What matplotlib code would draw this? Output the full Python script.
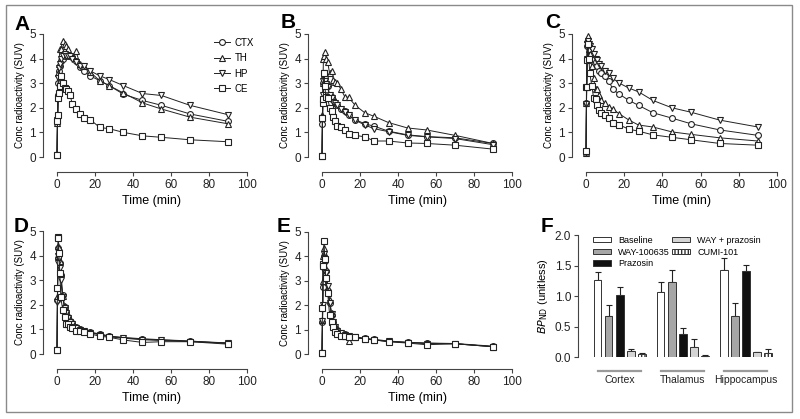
import numpy as np
import matplotlib.pyplot as plt

plt.rcParams['font.family'] = ['Liberation Sans', 'DejaVu Sans']

# Frame times (min)
times = [0, 0.25, 0.5, 0.75, 1, 1.5, 2, 3, 4, 5, 6, 7, 8, 10, 12, 14,
         17.5, 22.5, 27.5, 35, 45, 55, 70, 90]

regions = ["CTX", "TH", "HP", "CE"]

# Panel A
a_ctx = [0.1, 1.5, 2.5, 3.0, 3.5, 3.7, 3.9, 4.0, 4.1, 4.15, 4.1, 4.1, 4.05, 3.9, 3.65, 3.5, 3.3, 3.1, 2.9, 2.55, 2.3, 2.1, 1.75, 1.45]
a_th = [0.1, 1.4, 2.6, 3.4, 3.8, 4.4, 4.4, 4.7, 4.6, 4.5, 4.4, 4.15, 4.1, 4.3, 3.8, 3.7, 3.45, 3.1, 2.9, 2.6, 2.2, 1.95, 1.62, 1.35]
a_hp = [0.1, 1.5, 2.4, 3.2, 3.6, 3.8, 4.0, 4.1, 4.2, 4.1, 4.1, 4.1, 4.0, 3.85, 3.7, 3.7, 3.5, 3.3, 3.15, 2.9, 2.58, 2.5, 2.1, 1.72]
a_ce = [0.1, 1.45, 1.7, 2.4, 2.6, 2.9, 3.3, 3.0, 2.8, 2.75, 2.7, 2.5, 2.15, 1.95, 1.75, 1.58, 1.52, 1.2, 1.15, 1.0, 0.86, 0.8, 0.7, 0.62]

# Panel B
b_ctx = [0.05, 1.35, 2.3, 3.0, 3.3, 3.2, 3.0, 2.9, 2.5, 2.45, 2.3, 2.2, 2.1, 1.95, 1.85, 1.72, 1.52, 1.35, 1.25, 1.05, 0.9, 0.83, 0.78, 0.55]
b_th = [0.05, 1.7, 3.0, 4.0, 4.1, 4.25, 4.0, 3.85, 3.4, 3.5, 3.15, 3.05, 3.0, 2.75, 2.45, 2.42, 2.1, 1.8, 1.65, 1.4, 1.18, 1.1, 0.88, 0.55]
b_hp = [0.05, 1.6, 2.5, 3.1, 3.4, 3.1, 2.95, 2.85, 2.5, 2.4, 2.25, 2.2, 2.1, 1.95, 1.82, 1.7, 1.5, 1.3, 1.15, 1.03, 0.88, 0.82, 0.75, 0.5]
b_ce = [0.05, 1.6, 2.2, 2.35, 3.4, 2.9, 2.45, 2.4, 2.0, 1.85, 1.62, 1.45, 1.27, 1.22, 1.1, 0.95, 0.88, 0.82, 0.65, 0.65, 0.57, 0.55, 0.48, 0.32]

# Panel C
c_ctx = [0.15, 2.2, 3.95, 4.5, 4.6, 4.5, 4.4, 4.2, 4.0, 3.85, 3.7, 3.5, 3.4, 3.3, 3.1, 2.75, 2.55, 2.3, 2.1, 1.8, 1.58, 1.35, 1.1, 0.88]
c_th = [0.15, 2.2, 4.0, 4.8, 4.9, 4.4, 4.2, 3.7, 3.2, 2.75, 2.75, 2.5, 2.3, 2.2, 2.05, 1.95, 1.75, 1.5, 1.3, 1.22, 1.02, 0.92, 0.78, 0.65]
c_hp = [0.15, 2.15, 4.0, 4.6, 4.7, 4.6, 4.5, 4.4, 4.2, 4.0, 3.95, 3.8, 3.7, 3.5, 3.4, 3.2, 3.0, 2.8, 2.65, 2.3, 2.0, 1.82, 1.5, 1.22]
c_ce = [0.25, 2.85, 2.85, 3.95, 4.6, 4.0, 3.4, 2.9, 2.4, 2.35, 2.1, 1.9, 1.8, 1.7, 1.6, 1.4, 1.3, 1.13, 1.05, 0.9, 0.8, 0.7, 0.55, 0.48]

# Panel D
d_ctx = [0.15, 2.2, 3.9, 4.3, 4.2, 3.7, 3.2, 2.4, 1.9, 1.7, 1.5, 1.35, 1.25, 1.1, 1.0, 0.95, 0.88, 0.8, 0.72, 0.66, 0.6, 0.57, 0.52, 0.45]
d_th = [0.15, 2.3, 4.0, 4.4, 4.3, 3.8, 3.3, 2.35, 1.95, 1.75, 1.55, 1.4, 1.25, 1.1, 1.0, 0.95, 0.88, 0.82, 0.73, 0.67, 0.62, 0.58, 0.53, 0.42]
d_hp = [0.15, 2.1, 3.7, 4.0, 3.9, 3.5, 3.0, 2.3, 1.85, 1.65, 1.45, 1.3, 1.2, 1.05, 0.98, 0.93, 0.86, 0.78, 0.7, 0.64, 0.58, 0.55, 0.5, 0.45]
d_ce = [0.15, 2.7, 4.75, 4.7, 4.1, 3.3, 2.3, 1.8, 1.5, 1.22, 1.2, 1.1, 1.05, 0.95, 0.92, 0.9, 0.82, 0.72, 0.68, 0.57, 0.47, 0.5, 0.5, 0.4]

# Panel E
e_ctx = [0.05, 1.3, 2.75, 3.6, 4.0, 3.8, 3.4, 2.6, 2.1, 1.6, 1.3, 1.1, 1.0, 0.85, 0.8, 0.75, 0.7, 0.65, 0.6, 0.53, 0.48, 0.45, 0.43, 0.32]
e_th = [0.05, 1.4, 3.0, 4.0, 4.35, 4.0, 3.5, 2.7, 2.2, 1.7, 1.3, 1.1, 0.95, 0.8, 0.75, 0.55, 0.68, 0.62, 0.57, 0.52, 0.47, 0.44, 0.42, 0.3]
e_hp = [0.05, 1.35, 2.0, 3.5, 4.1, 3.8, 3.3, 2.8, 2.1, 1.65, 1.3, 1.1, 0.95, 0.85, 0.78, 0.72, 0.68, 0.62, 0.58, 0.52, 0.47, 0.43, 0.42, 0.3]
e_ce = [0.05, 1.9, 3.7, 3.6, 4.65, 3.9, 3.1, 2.5, 1.6, 1.3, 1.1, 0.9, 0.8, 0.75, 0.72, 0.7, 0.68, 0.62, 0.58, 0.5, 0.45, 0.38, 0.42, 0.3]

# Panel F: binding potential
groups = ["Cortex", "Thalamus", "Hippocampus"]
conditions = ["Baseline", "WAY-100635", "Prazosin", "WAY + prazosin", "CUMI-101"]
bp_cortex = [1.27, 0.67, 1.02, 0.10, 0.05]
bp_thalamus = [1.06, 1.23, 0.37, 0.16, 0.02]
bp_hippo = [1.43, 0.68, 1.41, 0.08, 0.07]
err_cortex = [0.13, 0.18, 0.12, 0.025, 0.015]
err_thalamus = [0.17, 0.19, 0.11, 0.13, 0.01]
err_hippo = [0.19, 0.2, 0.1, 0.01, 0.065]

markers = ["o", "^", "v", "s"]
ink = "#222222"
W, H = 800, 419
PT = 0.72  # points per pixel at 100 dpi

fig = plt.figure(figsize=(8, 4.19), dpi=100)


def add_ax(x0, x1, ybot, ytop):
    return fig.add_axes([x0 / W, 1 - ybot / H, (x1 - x0) / W, (ybot - ytop) / H])


def style_axes(ax, left_off=14, bottom_off=15):
    for s in ["top", "right"]:
        ax.spines[s].set_visible(False)
    ax.spines["left"].set_position(("outward", left_off * PT))
    ax.spines["bottom"].set_position(("outward", bottom_off * PT))
    for s in ["left", "bottom"]:
        ax.spines[s].set_color("#444444")
        ax.spines[s].set_linewidth(0.8)
    ax.tick_params(direction="out", length=3, width=0.8, colors="#444444",
                   labelcolor="#222222", labelsize=8.5, pad=2)


def kinetics(ax, series, legend=False):
    for vals, m, name in zip(series, markers, regions):
        ax.plot(times, vals, color=ink, lw=0.7, marker=m, ms=4.2, mfc="white",
                mec=ink, mew=0.8, clip_on=False, label=name)
    ax.set_xlim(0, 100)
    ax.set_ylim(0, 5)
    ax.set_xticks(range(0, 101, 20))
    ax.set_yticks(range(0, 6))
    style_axes(ax)
    ax.spines["left"].set_bounds(0, 5)
    ax.spines["bottom"].set_bounds(0, 100)
    ax.set_xlabel("Time (min)", fontsize=9, labelpad=3)
    ax.set_ylabel("Conc radioactivity (SUV)", fontsize=7, labelpad=3)
    if legend:
        ax.legend(loc="upper left", bbox_to_anchor=(0.78, 1.04), frameon=False,
                  fontsize=7, handlelength=1.6, handletextpad=0.5, labelspacing=0.55)


ax_a = add_ax(57, 247, 157, 34)
kinetics(ax_a, [a_ctx, a_th, a_hp, a_ce], legend=True)
ax_b = add_ax(322, 512, 157, 34)
kinetics(ax_b, [b_ctx, b_th, b_hp, b_ce])
ax_c = add_ax(586, 777, 157, 34)
kinetics(ax_c, [c_ctx, c_th, c_hp, c_ce])
ax_d = add_ax(57, 247, 354, 231)
kinetics(ax_d, [d_ctx, d_th, d_hp, d_ce])
ax_e = add_ax(322, 512, 354, 232)
kinetics(ax_e, [e_ctx, e_th, e_hp, e_ce])

# Panel F
ax_f = add_ax(585, 777, 357, 235)
pitch = 5.7
faces = ["white", "#a6a6a6", "#111111", "#d4d4d4", "white"]
hatches = [None, None, None, None, "|||||"]
vals = np.array([bp_cortex, bp_thalamus, bp_hippo])
errs = np.array([err_cortex, err_thalamus, err_hippo])
for i, cond in enumerate(conditions):
    xs = np.arange(len(groups)) * pitch + i
    ax_f.bar(xs, vals[:, i], width=0.66, color=faces[i], edgecolor="#333333",
             linewidth=0.7, hatch=hatches[i], label=cond, zorder=2)
    ax_f.errorbar(xs, vals[:, i], yerr=[np.zeros(len(groups)), errs[:, i]],
                  fmt="none", ecolor="#222222", elinewidth=0.8, capsize=2.5,
                  capthick=0.8, zorder=1)
ax_f.set_xlim(-1.15, 16.2)
ax_f.set_ylim(0, 2.0)
ax_f.set_yticks([0.0, 0.5, 1.0, 1.5, 2.0])
ax_f.set_yticklabels(["0.0", "0.5", "1.0", "1.5", "2.0"])
style_axes(ax_f, left_off=7, bottom_off=0)
ax_f.spines["bottom"].set_visible(False)
ax_f.spines["left"].set_bounds(0, 2.0)
centers = np.arange(len(groups)) * pitch + 2
ax_f.set_xticks(centers)
ax_f.set_xticklabels(groups, fontsize=7.5)
ax_f.tick_params(axis="x", length=0, pad=13)
for c in centers:
    ax_f.plot([c - 2.0, c + 1.9], [-0.115, -0.115], color="#9a9a9a", lw=1.6,
              transform=ax_f.get_xaxis_transform(), clip_on=False)
ax_f.set_ylabel(r"$\it{BP}_{\rm ND}$ (unitless)", fontsize=8, labelpad=3)
ax_f.legend(loc="upper left", bbox_to_anchor=(0.0, 1.06), ncol=2, frameon=False,
            fontsize=6.5, handlelength=2.0, handleheight=0.55, handletextpad=0.8,
            labelspacing=0.3, columnspacing=0.2)

# panel letters
for letter, x, y in [("A", 22, 24), ("B", 288, 23), ("C", 553, 23),
                     ("D", 21, 226), ("E", 284, 226), ("F", 547, 226)]:
    fig.text(x / W, 1 - y / H, letter, fontsize=15, fontweight="bold",
             ha="center", va="center")

# outer frame
fig.add_artist(plt.Rectangle((6 / W, 1 - 412 / H), 786 / W, 407 / H,
                             transform=fig.transFigure, fill=False,
                             edgecolor="#8a8a8a", lw=1.0))

fig.savefig("out.png", dpi=100)
